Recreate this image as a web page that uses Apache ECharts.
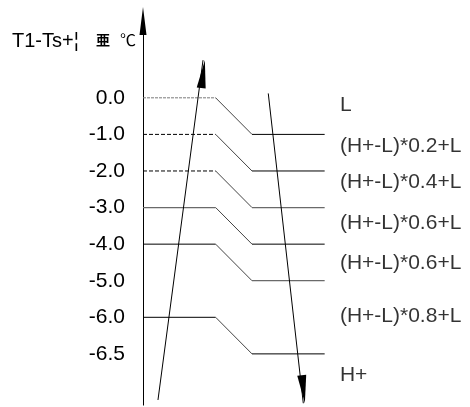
<!DOCTYPE html>
<html>
<head>
<meta charset="utf-8">
<script src="https://cdn.jsdelivr.net/npm/echarts@6/dist/echarts.min.js"></script>
<style>
html,body{margin:0;padding:0;background:#fff;}
#chart{width:470px;height:407px;}
</style>
</head>
<body>
<div id="chart"></div>
<script>
// ---- data ----
var tickLabels = ['0.0', '-1.0', '-2.0', '-3.0', '-4.0', '-5.0', '-6.0', '-6.5'];
var tickValues = [0, -1, -2, -3, -4, -5, -6, -7];
var levelFrom = [0, -1, -2, -3, -4, -6];
var levelTo = [-1, -2, -3, -4, -5, -7];
var xSteps = [0, 1, 1.5, 2.5];
var rightLabels = ['L', '(H+-L)*0.2+L', '(H+-L)*0.4+L', '(H+-L)*0.6+L', '(H+-L)*0.6+L', '(H+-L)*0.8+L', 'H+'];
var rightLabelY = [-0.2, -1.32, -2.3, -3.42, -4.52, -5.98, -7.58];
var rightLabelX = 2.71;
var upArrow = [[0.206, -8.26], [0.826, 1.03]];
var downArrow = [[1.724, 0.12], [2.206, -8.35]];
var axisTitle = ['T1-Ts+¦', '亜', '℃'];

// ---- styles ----
var leftStyles = [
  {color: '#7a7a7a', width: 1, type: [3, 1]},
  {color: '#000', width: 1, type: [4, 2]},
  {color: '#000', width: 1, type: [4, 2]},
  {color: '#6a6a6a', width: 1.3, type: 'solid'},
  {color: '#000', width: 1, type: 'solid'},
  {color: '#000', width: 1, type: 'solid'}
];
var rightStyles = [
  {color: '#000', width: 1},
  {color: '#000', width: 1},
  {color: '#6a6a6a', width: 1.3},
  {color: '#000', width: 1},
  {color: '#6a6a6a', width: 1.3},
  {color: '#000', width: 1}
];
var FONT = 'Liberation Sans, Arial, sans-serif';

var series = [];
levelFrom.forEach(function (lv, i) {
  var to = levelTo[i];
  series.push({
    type: 'line', silent: true, symbol: 'none', animation: false,
    data: [[xSteps[0], lv], [xSteps[1], lv]],
    lineStyle: leftStyles[i]
  });
  series.push({
    type: 'line', silent: true, symbol: 'none', animation: false,
    data: [[xSteps[1], lv], [xSteps[2], to]],
    lineStyle: {color: '#444', width: 1}
  });
  series.push({
    type: 'line', silent: true, symbol: 'none', animation: false,
    data: [[xSteps[2], to], [xSteps[3], to]],
    lineStyle: rightStyles[i]
  });
});

function arrowSeries(pts, rot, off) {
  return {
    type: 'line', silent: true, animation: false,
    lineStyle: {color: '#000', width: 1},
    itemStyle: {color: '#000', borderWidth: 0},
    data: [
      {value: pts[0], symbol: 'none'},
      {value: pts[1], symbol: 'triangle', symbolSize: [9, 28], symbolRotate: rot, symbolOffset: off,
       itemStyle: {color: '#000', borderWidth: 0}}
    ]
  };
}
series.push(arrowSeries(upArrow, -7.55, [0, 14]));
series.push(arrowSeries(downArrow, 186.44, [0, -14]));

series.push({
  type: 'scatter', silent: true, animation: false,
  symbolSize: 0,
  data: rightLabelY.map(function (y, i) { return {value: [rightLabelX, y], name: rightLabels[i]}; }),
  label: {
    show: true, position: 'right', distance: 0,
    formatter: function (p) { return p.name; },
    color: '#000', fontSize: 21, fontFamily: FONT
  }
});

var chart = echarts.init(document.getElementById('chart'), null, {renderer: 'canvas'});
chart.setOption({
  backgroundColor: '#fff',
  animation: false,
  grid: {left: 143, right: 0, top: 21, bottom: 1.9, containLabel: false},
  xAxis: {type: 'value', min: 0, max: 4.5, show: false},
  yAxis: {
    type: 'value', min: -8.4, max: 2.1, position: 'left',
    axisLine: {show: true, onZero: false, lineStyle: {color: '#000', width: 1},
      symbol: ['none', 'triangle'], symbolSize: [7, 28]},
    axisTick: {show: false},
    splitLine: {show: false},
    axisLabel: {
      show: true, margin: 18, customValues: tickValues,
      color: '#000', fontSize: 21, fontFamily: FONT,
      formatter: function (v) {
        var idx = tickValues.indexOf(Math.round(v));
        return idx >= 0 ? tickLabels[idx] : '';
      }
    }
  },
  graphic: [
    {type: 'text', left: 12, top: 31,
     style: {text: axisTitle[0], fontSize: 20, fontFamily: FONT, fill: '#000'}},
    {type: 'text', left: 96, top: 33,
     style: {text: axisTitle[1], fontSize: 14, fontWeight: 'bold', fontFamily: 'Noto Sans CJK SC', fill: '#000'}},
    {type: 'text', left: 120, top: 32,
     style: {text: axisTitle[2], fontSize: 16, fontFamily: 'Noto Sans CJK SC', fill: '#000'}}
  ],
  series: series
});
</script>
</body>
</html>
